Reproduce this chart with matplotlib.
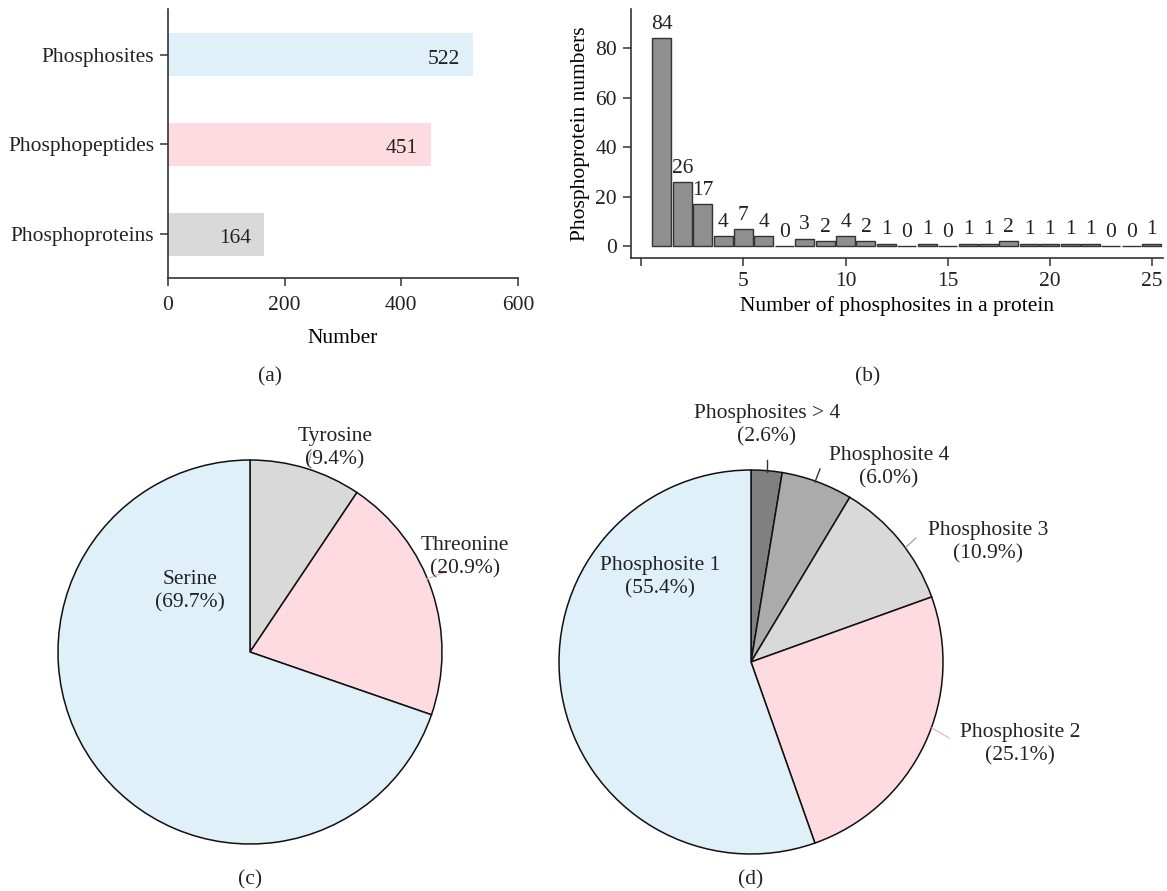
import matplotlib
matplotlib.use("Agg")
import matplotlib.pyplot as plt

plt.rcParams['font.family'] = ['Liberation Serif', 'DejaVu Serif']
plt.rcParams['font.size'] = 15.5

# ---------------- data ----------------
a_categories = ["Phosphoproteins", "Phosphopeptides", "Phosphosites"]
a_values = [164, 451, 522]
a_colors = ["#d9d9d9", "#fddbe0", "#dff0f8"]

b_sites = list(range(1, 26))
b_counts = [84, 26, 17, 4, 7, 4, 0, 3, 2, 4, 2, 1, 0, 1, 0, 1, 1, 2, 1, 1, 1, 1, 0, 0, 1]

c_labels = ["Tyrosine", "Threonine", "Serine"]
c_pcts = [9.4, 20.9, 69.7]
c_colors = ["#d9d9d9", "#fddbe0", "#dff0f8"]

d_labels = ["Phosphosites > 4", "Phosphosite 4", "Phosphosite 3", "Phosphosite 2", "Phosphosite 1"]
d_pcts = [2.6, 6.0, 10.9, 25.1, 55.4]
d_colors = ["#808080", "#ababab", "#d9d9d9", "#fddbe0", "#dff0f8"]

W, H = 1167, 891
FS = 15.5
TXT = "#222222"
LS = 1.3
fig = plt.figure(figsize=(W / 100, H / 100), dpi=100)

def px_axes(x0, y0, x1, y1):
    return fig.add_axes([x0 / W, 1 - y1 / H, (x1 - x0) / W, (y1 - y0) / H])

SPINE = "#333333"

# ---------------- (a) ----------------
ax = px_axes(168, 9, 518, 278)
ypos = list(range(len(a_categories)))
ax.barh(ypos, a_values, height=0.48, color=a_colors)
for y, v in zip(ypos, a_values):
    ax.text(v - 22, y - 0.05, str(v), ha='right', va='center', fontsize=FS, color=TXT)
ax.set_yticks(ypos)
ax.set_yticklabels(a_categories)
ax.set_xlim(0, 600)
ax.set_ylim(-0.49, 2.51)
ax.set_xticks([0, 200, 400, 600])
ax.set_xlabel("Number", labelpad=10)
for s in ["top", "right"]:
    ax.spines[s].set_visible(False)
for s in ["left", "bottom"]:
    ax.spines[s].set_color(SPINE)
    ax.spines[s].set_linewidth(1.2)
ax.tick_params(length=6, width=1.1, color=SPINE, labelcolor=TXT, pad=4)
ax.tick_params(axis='x', pad=7)
fig.text(270 / W, 1 - 377 / H, "(a)", ha='center', va='center', fontsize=FS, color=TXT)

# ---------------- (b) ----------------
bx = px_axes(631, 9, 1163, 258)
bx.bar(b_sites, b_counts, width=0.93, color="#8f8f8f", edgecolor="#333333", linewidth=1.0)
for x, v in zip(b_sites, b_counts):
    bx.text(x, v + 5.5, str(v), ha='center', va='center', fontsize=FS, color=TXT)
bx.set_xlim(-0.51, 25.55)
bx.set_ylim(-4.85, 95.8)
bx.set_yticks([0, 20, 40, 60, 80])
bx.set_xticks([0, 5, 10, 15, 20, 25])
bx.set_xticklabels(["", "5", "10", "15", "20", "25"])
bx.set_xlabel("Number of phosphosites in a protein", labelpad=4)
bx.set_ylabel("Phosphoprotein numbers", labelpad=4)
for s in ["top", "right"]:
    bx.spines[s].set_visible(False)
for s in ["left", "bottom"]:
    bx.spines[s].set_color(SPINE)
    bx.spines[s].set_linewidth(1.2)
bx.tick_params(length=6, width=1.1, color=SPINE, labelcolor=TXT, pad=4)
fig.text(868 / W, 1 - 377 / H, "(b)", ha='center', va='center', fontsize=FS, color=TXT)

# ---------------- pies ----------------
R = 192

def pie_axes(cx, cy):
    return px_axes(cx - R, cy - R, cx + R, cy + R)

def fix_limits(p):
    p.set_xlim(-1, 1)
    p.set_ylim(-1, 1)
    p.set_aspect('equal')
    p.axis('off')

def to_data(cx, cy, x, y):
    return (x - cx) / R, (cy - y) / R

# (c)
cxc, cyc = 250, 652
pc = pie_axes(cxc, cyc)
pc.pie(c_pcts, colors=c_colors, startangle=90, counterclock=False, radius=1.0,
       wedgeprops=dict(edgecolor="#111111", linewidth=1.1))
fix_limits(pc)
c_text_pos = [(335, 448), (465, 557), (190, 591)]
c_lines = [((311, 453), (308, 465)), ((445, 572), (427, 579)), None]
c_line_colors = ["#a8a8a8", "#f5b8c2", None]
for lab, pct, (tx, ty), ln, lc in zip(c_labels, c_pcts, c_text_pos, c_lines, c_line_colors):
    x, y = to_data(cxc, cyc, tx, ty)
    pc.text(x, y, f"{lab}\n({pct:.1f}%)", ha='center', va='center', fontsize=FS,
            color=TXT, linespacing=LS, clip_on=False)
    if ln is not None:
        (x0, y0), (x1, y1) = ln
        a0 = to_data(cxc, cyc, x0, y0)
        a1 = to_data(cxc, cyc, x1, y1)
        pc.plot([a0[0], a1[0]], [a0[1], a1[1]], color=lc, lw=1.0, clip_on=False)
fig.text(250 / W, 1 - 880 / H, "(c)", ha='center', va='center', fontsize=FS, color=TXT)

# (d)
cxd, cyd = 751, 662
pd_ = pie_axes(cxd, cyd)
pd_.pie(d_pcts, colors=d_colors, startangle=90, counterclock=False, radius=1.0,
        wedgeprops=dict(edgecolor="#111111", linewidth=1.1))
fix_limits(pd_)
d_text_pos = [(767, 425), (889, 467), (988, 542), (1020, 744), (660, 577)]
d_lines = [((767, 460), (767, 472)), ((820, 469), (815, 482)), ((916, 538), (906, 547)),
           ((949, 738), (932, 728)), None]
d_line_colors = ["#333333", "#333333", "#a8a8a8", "#f5b8c2", None]
for lab, pct, (tx, ty), ln, lc in zip(d_labels, d_pcts, d_text_pos, d_lines, d_line_colors):
    x, y = to_data(cxd, cyd, tx, ty)
    pd_.text(x, y, f"{lab}\n({pct:.1f}%)", ha='center', va='center', fontsize=FS,
             color=TXT, linespacing=LS, clip_on=False)
    if ln is not None:
        (x0, y0), (x1, y1) = ln
        a0 = to_data(cxd, cyd, x0, y0)
        a1 = to_data(cxd, cyd, x1, y1)
        pd_.plot([a0[0], a1[0]], [a0[1], a1[1]], color=lc, lw=1.0, clip_on=False)
fig.text(751 / W, 1 - 880 / H, "(d)", ha='center', va='center', fontsize=FS, color=TXT)

fig.savefig("out.png", dpi=100)
